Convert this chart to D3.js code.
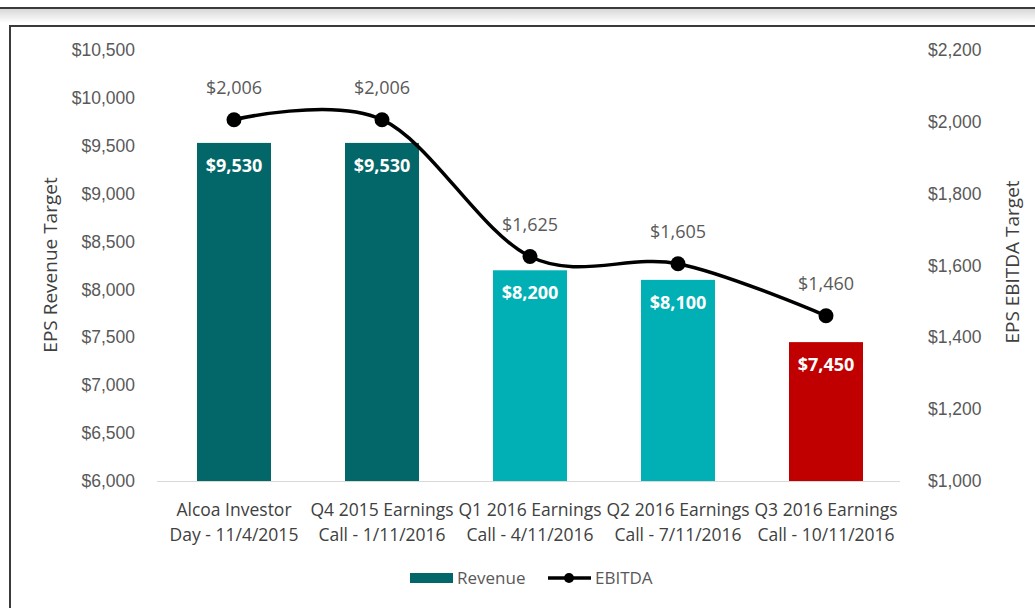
<!DOCTYPE html>
<html>
<head>
<meta charset="utf-8">
<script src="https://cdn.jsdelivr.net/npm/d3@7"></script>
<style>
  body { margin: 0; background: #fff; }
  svg { font-family: "Open Sans", "Noto Sans", sans-serif; }
</style>
</head>
<body>
<div id="chart"></div>
<script>
// data
var categories = [
  ["Alcoa Investor", "Day - 11/4/2015"],
  ["Q4 2015 Earnings", "Call - 1/11/2016"],
  ["Q1 2016 Earnings", "Call - 4/11/2016"],
  ["Q2 2016 Earnings", "Call - 7/11/2016"],
  ["Q3 2016 Earnings", "Call - 10/11/2016"]
]
var revenue = [9530, 9530, 8200, 8100, 7450]
var ebitda = [2006, 2006, 1625, 1605, 1460]
var barColors = ["#03676a", "#03676a", "#00b0b4", "#00b0b4", "#c00000"]
var leftTicks = [6000, 6500, 7000, 7500, 8000, 8500, 9000, 9500, 10000, 10500]
var rightTicks = [1000, 1200, 1400, 1600, 1800, 2000, 2200]

var W = 1035, H = 608
var plot = {left: 160, right: 900, top: 50, bottom: 481}
var textGray = "#595959"
var fmt = d3.format("$,")

var svg = d3.select("#chart").append("svg")
  .attr("width", W)
  .attr("height", H)

// frame: top rule with soft shadow, then chart box
var grad = svg.append("defs").append("linearGradient")
  .attr("id", "shade").attr("x1", 0).attr("y1", 0).attr("x2", 0).attr("y2", 1)
grad.append("stop").attr("offset", "0%").attr("stop-color", "#d8d8d8")
grad.append("stop").attr("offset", "100%").attr("stop-color", "#ffffff")

svg.append("rect").attr("x", 0).attr("y", 9).attr("width", W).attr("height", 14).attr("fill", "url(#shade)")
svg.append("line").attr("x1", 0).attr("x2", W).attr("y1", 8).attr("y2", 8)
  .attr("stroke", "#3a3a3a").attr("stroke-width", 2)
svg.append("path")
  .attr("d", "M" + 10 + "," + H + "V" + 26 + "H" + W)
  .attr("fill", "none").attr("stroke", "#3a3a3a").attr("stroke-width", 2)

var x = d3.scaleBand()
  .domain(d3.range(categories.length))
  .range([plot.left, plot.right])
  .paddingInner(0.5)
  .paddingOuter(0.25)

var yL = d3.scaleLinear().domain([6000, 10500]).range([plot.bottom, plot.top])
var yR = d3.scaleLinear().domain([1000, 2200]).range([plot.bottom, plot.top])

// left axis
svg.append("g")
  .attr("transform", "translate(" + plot.left + ",0)")
  .call(d3.axisLeft(yL).tickValues(leftTicks).tickSize(0).tickPadding(25).tickFormat(fmt))
  .call(g => g.select(".domain").remove())
  .call(g => g.selectAll("text").attr("fill", textGray).style("font-size", "17.5px"))

// right axis
svg.append("g")
  .attr("transform", "translate(" + plot.right + ",0)")
  .call(d3.axisRight(yR).tickValues(rightTicks).tickSize(0).tickPadding(28).tickFormat(fmt))
  .call(g => g.select(".domain").remove())
  .call(g => g.selectAll("text").attr("fill", textGray).style("font-size", "17.5px"))

// x baseline
svg.append("line")
  .attr("x1", 157).attr("x2", plot.right)
  .attr("y1", plot.bottom + 0.5).attr("y2", plot.bottom + 0.5)
  .attr("stroke", "#d9d9d9").attr("stroke-width", 1)

// category labels
var cat = svg.append("g").selectAll("text")
  .data(categories)
  .enter()
  .append("text")
  .attr("text-anchor", "middle")
  .attr("fill", "#404040")
  .style("font-size", "17.5px")
  .attr("x", (d, i) => x(i) + x.bandwidth() / 2)
  .attr("y", 516)
cat.append("tspan").attr("x", (d, i) => x(i) + x.bandwidth() / 2).text(d => d[0])
cat.append("tspan").attr("x", (d, i) => x(i) + x.bandwidth() / 2).attr("dy", 25).text(d => d[1])

// bars
svg.append("g").selectAll("rect")
  .data(revenue)
  .enter()
  .append("rect")
  .attr("x", (d, i) => x(i))
  .attr("width", x.bandwidth())
  .attr("y", d => yL(d))
  .attr("height", d => plot.bottom - yL(d))
  .attr("fill", (d, i) => barColors[i])

svg.append("g").selectAll("text")
  .data(revenue)
  .enter()
  .append("text")
  .attr("text-anchor", "middle")
  .attr("x", (d, i) => x(i) + x.bandwidth() / 2)
  .attr("y", d => yL(d) + 29)
  .attr("fill", "#ffffff")
  .style("font-size", "18px")
  .style("font-weight", "bold")
  .text(d => fmt(d))

// EBITDA line
var line = d3.line()
  .x((d, i) => x(i) + x.bandwidth() / 2)
  .y(d => yR(d))
  .curve(d3.curveCardinal.tension(0))

svg.append("path")
  .datum(ebitda)
  .attr("d", line)
  .attr("fill", "none")
  .attr("stroke", "#000")
  .attr("stroke-width", 3.5)

svg.append("g").selectAll("circle")
  .data(ebitda)
  .enter()
  .append("circle")
  .attr("cx", (d, i) => x(i) + x.bandwidth() / 2)
  .attr("cy", d => yR(d))
  .attr("r", 7.5)
  .attr("fill", "#000")

svg.append("g").selectAll("text")
  .data(ebitda)
  .enter()
  .append("text")
  .attr("text-anchor", "middle")
  .attr("x", (d, i) => x(i) + x.bandwidth() / 2)
  .attr("y", d => yR(d) - 26)
  .attr("fill", textGray)
  .style("font-size", "18px")
  .text(d => fmt(d))

// axis titles
svg.append("text")
  .attr("transform", "translate(57,265) rotate(-90)")
  .attr("text-anchor", "middle")
  .attr("fill", "#404040")
  .style("font-size", "19px")
  .text("EPS Revenue Target")

svg.append("text")
  .attr("transform", "translate(1019,262) rotate(-90)")
  .attr("text-anchor", "middle")
  .attr("fill", "#404040")
  .style("font-size", "19px")
  .text("EPS EBITDA Target")

// legend
var legend = svg.append("g")
legend.append("rect").attr("x", 410).attr("y", 573).attr("width", 43).attr("height", 10).attr("fill", barColors[0])
legend.append("text").attr("x", 457).attr("y", 584).attr("fill", textGray).style("font-size", "17px").text("Revenue")
legend.append("line").attr("x1", 548).attr("x2", 591).attr("y1", 578).attr("y2", 578).attr("stroke", "#000").attr("stroke-width", 3.5)
legend.append("circle").attr("cx", 569).attr("cy", 578).attr("r", 5).attr("fill", "#000")
legend.append("text").attr("x", 595).attr("y", 584).attr("fill", textGray).style("font-size", "17px").text("EBITDA")
</script>
</body>
</html>
